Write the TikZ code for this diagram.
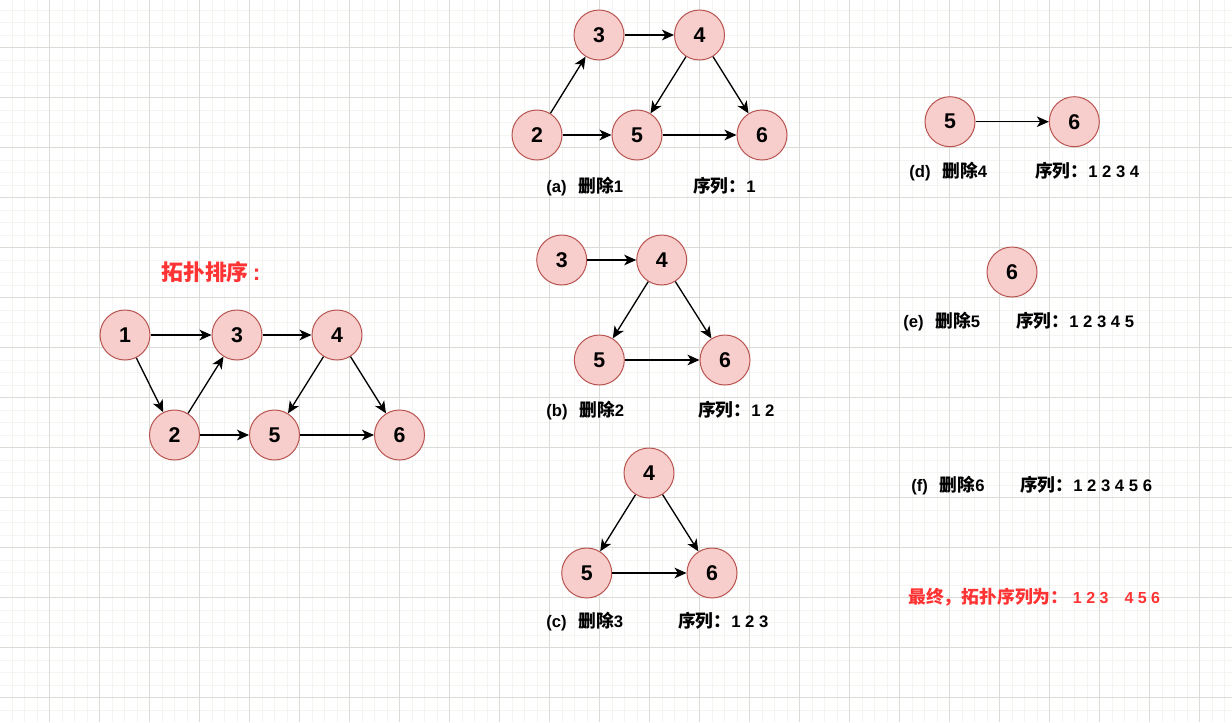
\documentclass[tikz,border=0pt]{standalone}
\usepackage{fontspec}
\setmainfont{Liberation Sans}
\newfontfamily\cjk{Noto Sans CJK SC}[Scale=1.06]
\usetikzlibrary{arrows.meta}
\definecolor{nodefill}{HTML}{F8CECC}
\definecolor{nodedraw}{HTML}{B85450}
\definecolor{redtxt}{HTML}{FF3333}
\definecolor{gridminor}{RGB}{244,244,241}
\definecolor{gridmajor}{RGB}{220,220,214}
\begin{document}
\begin{tikzpicture}[x=0.75pt,y=-0.75pt,
  vert/.style={circle, draw=nodedraw, fill=nodefill, line width=0.75pt, minimum size=37.5pt, inner sep=0pt, font=\fontsize{16}{19}\selectfont\bfseries},
  edge/.style={draw=black, line width=1pt, -{Stealth[length=9pt,width=8pt,inset=2.5pt]}},
  lbl/.style={anchor=base west, inner sep=0pt, font=\fontsize{12.5}{15}\selectfont\bfseries},
  redlbl/.style={lbl, text=redtxt},
  gminor/.style={draw=gridminor, line width=0.75pt},
  gmajor/.style={draw=gridmajor, line width=0.75pt},
]
\useasboundingbox (0,0) rectangle (1232,722);
\fill[white] (0,0) rectangle (1232,722);
% grid
\foreach \i in {0,...,97} \draw[gminor] ({12+12.5*\i},0) -- ({12+12.5*\i},722);
\foreach \i in {0,...,56} \draw[gminor] (0,{10+12.5*\i}) -- (1232,{10+12.5*\i});
\foreach \i in {0,...,23} \draw[gmajor] ({49.5+50*\i},0) -- ({49.5+50*\i},722);
\foreach \i in {0,...,13} \draw[gmajor] (0,{47.5+50*\i}) -- (1232,{47.5+50*\i});

% title
\node[redlbl, font=\fontsize{15.5}{18}\selectfont\bfseries] (title) at (161,280) {{\cjk 拓扑排序}\hspace{3pt}{\fontsize{17}{18}\selectfont:}};

% main graph
\node[vert] (m1) at (125,335) {1};
\node[vert] (m3) at (237,335) {3};
\node[vert] (m4) at (337,335) {4};
\node[vert] (m2) at (174.5,435) {2};
\node[vert] (m5) at (274.5,435) {5};
\node[vert] (m6) at (399.5,435) {6};
\draw[edge] (m1) -- (m3);
\draw[edge] (m1) -- (m2);
\draw[edge] (m2) -- (m3);
\draw[edge] (m3) -- (m4);
\draw[edge] (m4) -- (m5);
\draw[edge] (m4) -- (m6);
\draw[edge] (m2) -- (m5);
\draw[edge] (m5) -- (m6);

% (a)
\node[vert] (a3) at (599,35) {3};
\node[vert] (a4) at (699.5,35) {4};
\node[vert] (a2) at (537,135) {2};
\node[vert] (a5) at (637,135) {5};
\node[vert] (a6) at (762,135) {6};
\draw[edge] (a2) -- (a3);
\draw[edge] (a3) -- (a4);
\draw[edge] (a4) -- (a5);
\draw[edge] (a4) -- (a6);
\draw[edge] (a2) -- (a5);
\draw[edge] (a5) -- (a6);
\node[lbl] (la1) at (546,192) {(a)\hspace{9pt}{\cjk 删除}1};
\node[lbl] (la2) at (693,192) {{\cjk 序列：}1};

% (b)
\node[vert] (b3) at (561.7,260) {3};
\node[vert] (b4) at (661.7,260) {4};
\node[vert] (b5) at (599.3,360) {5};
\node[vert] (b6) at (725,360) {6};
\draw[edge] (b3) -- (b4);
\draw[edge] (b4) -- (b5);
\draw[edge] (b4) -- (b6);
\draw[edge] (b5) -- (b6);
\node[lbl] (lb1) at (546,416) {(b)\hspace{9pt}{\cjk 删除}2};
\node[lbl] (lb2) at (698,416) {{\cjk 序列：}1 2};

% (c)
\node[vert] (c4) at (649,473) {4};
\node[vert] (c5) at (586.7,573) {5};
\node[vert] (c6) at (712,573) {6};
\draw[edge] (c4) -- (c5);
\draw[edge] (c4) -- (c6);
\draw[edge] (c5) -- (c6);
\node[lbl] (lc1) at (546,627) {(c)\hspace{9pt}{\cjk 删除}3};
\node[lbl] (lc2) at (678,627) {{\cjk 序列：}1 2 3};

% (d)
\node[vert] (d5) at (950,121.7) {5};
\node[vert] (d6) at (1074.3,121.7) {6};
\draw[edge] (d5) -- (d6);
\node[lbl] (ld1) at (909,177) {(d)\hspace{9pt}{\cjk 删除}4};
\node[lbl] (ld2) at (1035,177) {{\cjk 序列：}1 2 3 4};

% (e)
\node[vert] (e6) at (1012,272) {6};
\node[lbl] (le1) at (903,327) {(e)\hspace{9pt}{\cjk 删除}5};
\node[lbl] (le2) at (1016,327) {{\cjk 序列：}1 2 3 4 5};

% (f)
\node[lbl] (lf1) at (911,491) {(f)\hspace{9pt}{\cjk 删除}6};
\node[lbl] (lf2) at (1020,491) {{\cjk 序列：}1 2 3 4 5 6};

% final
\node[redlbl, font=\fontsize{12}{14}\selectfont\bfseries] (final) at (908,603) {{\cjk\fontsize{12.6}{14}\selectfont 最终，拓扑序列为：} 1 2 3\hspace{12pt}4 5 6};
\end{tikzpicture}
\end{document}
